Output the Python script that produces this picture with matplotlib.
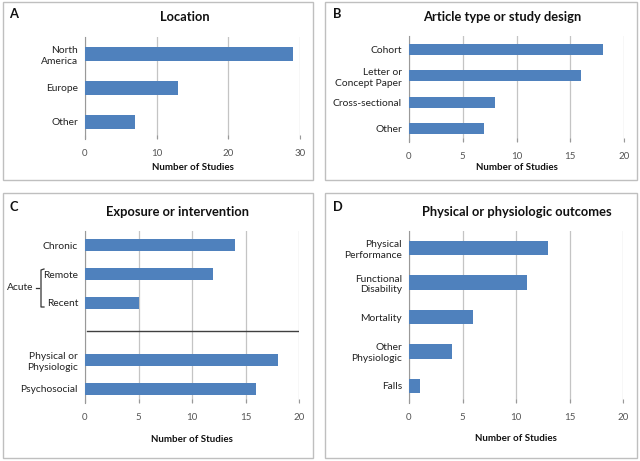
import matplotlib.pyplot as plt
from matplotlib.patches import Rectangle
from matplotlib.lines import Line2D

plt.rcParams['font.family'] = ['Lato', 'DejaVu Sans']

# panel A
loc_labels = ["North\nAmerica", "Europe", "Other"]
loc_counts = [29, 13, 7]

# panel B
design_labels = ["Cohort", "Letter or\nConcept Paper", "Cross-sectional", "Other"]
design_counts = [18, 16, 8, 7]

# panel C (empty slot marks the separator line)
expo_labels = ["Chronic", "Remote", "Recent", "", "Physical or\nPhysiologic", "Psychosocial"]
expo_counts = [14, 12, 5, None, 18, 16]

# panel D
outcome_labels = ["Physical\nPerformance", "Functional\nDisability", "Mortality",
                  "Other\nPhysiologic", "Falls"]
outcome_counts = [13, 11, 6, 4, 1]

W, H = 640, 461
BAR = "#4F81BD"
GRID = "#C4C4C4"

fig = plt.figure(figsize=(W / 100, H / 100), dpi=100)


def fx(x):
    return x / W


def fy(y):
    return 1 - y / H


def frame(x0, y0, x1, y1):
    fig.add_artist(Rectangle((fx(x0), fy(y1)), fx(x1 - x0), (y1 - y0) / H,
                             transform=fig.transFigure, fill=False,
                             edgecolor="#BFBFBF", linewidth=1.0))


def panel(box, labels, counts, xmax, step, title, letter, title_xy, letter_xy, xlabel_y):
    x0, y0, x1, y1 = box
    ax = fig.add_axes([fx(x0), fy(y1), fx(x1 - x0), (y1 - y0) / H])
    pos = list(range(len(labels)))
    vals = [0 if c is None else c for c in counts]
    ax.barh(pos, vals, height=0.42, color=BAR, zorder=3)
    ax.set_yticks(pos)
    ax.set_yticklabels(labels, fontsize=7.4, color="#222222", multialignment="right",
                       linespacing=1.25)
    ax.set_ylim(len(labels) - 0.5, -0.5)
    ax.set_xlim(0, xmax)
    ax.set_xticks(range(0, xmax + 1, step))
    ax.tick_params(axis="x", labelsize=7, labelcolor="#555555", direction="in",
                   length=3, color="#999999", pad=7)
    ax.tick_params(axis="y", length=0, pad=5)
    ax.grid(axis="x", color=GRID, linewidth=0.9, zorder=0)
    for s in ["top", "right", "bottom"]:
        ax.spines[s].set_visible(False)
    ax.spines["left"].set_color("#999999")
    fig.text(fx(title_xy[0]), fy(title_xy[1]), title, fontsize=9.3, fontweight="bold",
             ha="center", va="center", color="#111111")
    fig.text(fx(letter_xy[0]), fy(letter_xy[1]), letter, fontsize=9.3, fontweight="bold",
             ha="left", va="center", color="#111111")
    fig.text(fx((x0 + x1) / 2), fy(xlabel_y), "Number of Studies", fontsize=7,
             fontweight="bold", ha="center", va="center", color="#111111")
    return ax


frame(3, 2, 313, 180)
frame(325, 2, 637, 180)
frame(3, 193, 313, 458)
frame(325, 193, 637, 458)

panel((85, 37, 300, 139), loc_labels, loc_counts, 30, 10, "Location", "A",
      (185, 17), (9, 14), 168)
panel((409, 36, 624, 142), design_labels, design_counts, 20, 5,
      "Article type or study design", "B", (502, 17), (333, 14), 168)
axc = panel((85, 231, 299, 403), expo_labels, expo_counts, 20, 5,
            "Exposure or intervention", "C", (177, 212), (9, 207), 439)
panel((409, 231, 623, 403), outcome_labels, outcome_counts, 20, 5,
      "Physical or physiologic outcomes", "D", (517, 212), (333, 207), 438)

# separator line between timing and type in panel C
axc.axhline(3, xmin=0.01, xmax=0.995, color="#404040", linewidth=1.0, zorder=4)

# "Acute" brace
brace_x = [fx(44), fx(41), fx(41), fx(44)]
brace_y = [fy(269), fy(270), fy(307), fy(307)]
fig.add_artist(Line2D(brace_x, brace_y, transform=fig.transFigure, color="#333333",
                      linewidth=0.9))
fig.add_artist(Line2D([fx(36), fx(39)], [fy(288), fy(288)], transform=fig.transFigure,
                      color="#333333", linewidth=0.9))
fig.text(fx(7), fy(287), "Acute", fontsize=7.4, ha="left", va="center", color="#222222")

fig.savefig("out.png", dpi=100)
